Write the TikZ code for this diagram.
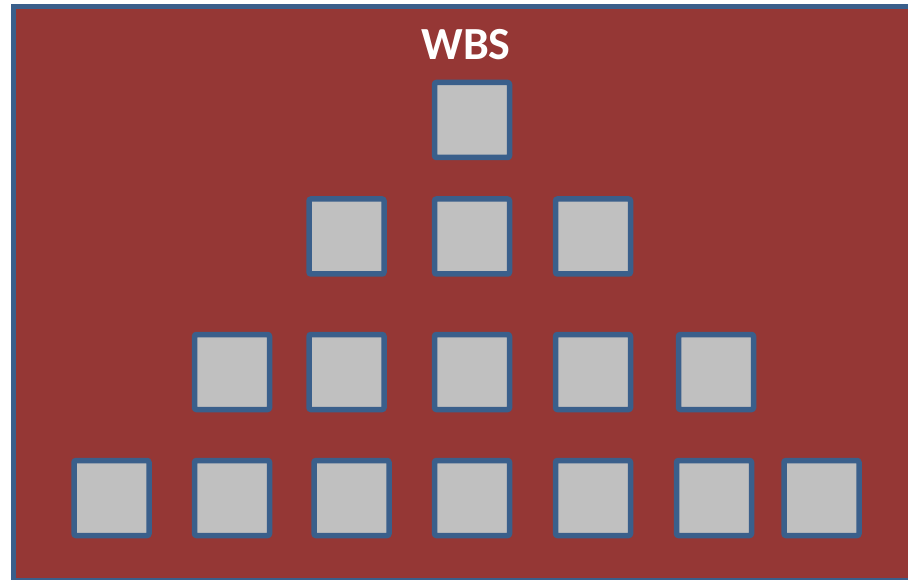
\documentclass[tikz,border=0pt]{standalone}
\usepackage{fontspec}
\setmainfont{Carlito}
\definecolor{wbsred}{HTML}{953735}
\definecolor{wbsblue}{HTML}{3A5F8B}
\definecolor{wbsgray}{HTML}{C0C0C0}
\begin{document}
\begin{tikzpicture}[x=1pt, y=-1pt,
    wbsbox/.style={draw=wbsblue, fill=wbsgray, line width=5.5pt, rounded corners=2pt, minimum size=75pt, inner sep=0pt},
    every node/.style={font=\bfseries\fontsize{46}{52}\selectfont}]
  \useasboundingbox (0,0) rectangle (908,580);
  % panel, its right side runs past the page
  \draw[wbsblue, fill=wbsred, line width=5pt] (13,6.5) rectangle (915,580.5);
  \node[text=white] (title) at (466,45) {WBS};
  % rows of boxes, top to bottom
  \node[wbsbox] (r1c1) at (472,120) {};
  \foreach \x [count=\i] in {346.5,472,593} \node[wbsbox] (r2c\i) at (\x,236.5) {};
  \foreach \x [count=\i] in {232,346.5,472,593,716} \node[wbsbox] (r3c\i) at (\x,372) {};
  \foreach \x [count=\i] in {111.5,232,351.5,472,593,714,821.5} \node[wbsbox] (r4c\i) at (\x,498) {};
\end{tikzpicture}
\end{document}
